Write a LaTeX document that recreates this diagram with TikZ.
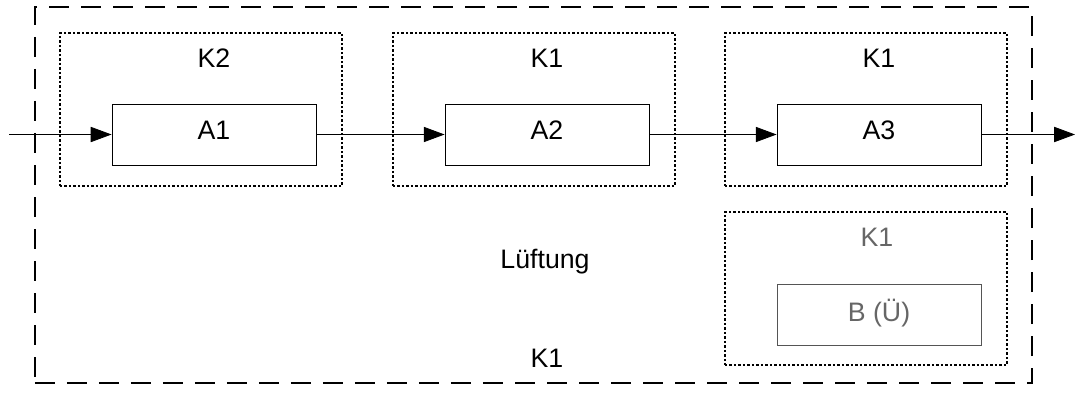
\documentclass[tikz,border=0pt]{standalone}
\usepackage{fontspec}
\setmainfont{Liberation Sans}
\usepackage{xcolor}
\usetikzlibrary{positioning,arrows.meta}
\definecolor{LFTgray}{HTML}{666666}
\definecolor{LFTedge}{HTML}{555555}

\begin{document}
\begin{tikzpicture}[x=0.025cm, y=-0.025cm,
  font=\fontsize{19}{23}\selectfont,
  akt/.style={draw, line width=0.6pt, minimum width=5.1cm, minimum height=1.525cm, inner sep=0pt, text depth=0.2cm},
  kbox/.style={draw, line width=1pt, dash pattern=on 1.6pt off 1.6pt, minimum width=7.05cm, minimum height=3.825cm, inner sep=0pt},
  flow/.style={-{Triangle[length=5.2mm, width=3.8mm]}, line width=0.6pt}]
\useasboundingbox (0,0) rectangle (1075,394);
% outer frame
\node[draw, line width=1.3pt, dash pattern=on 0.5cm off 0.3cm, minimum width=24.925cm, minimum height=9.4cm, inner sep=0pt] (frame) at (533.5,195) {};
% three stages
\foreach \i/\k/\x in {1/K2/214,2/K1/547,3/K1/879}{
  \node[kbox] (k\i) at (\x-13,109.5) {};
  \node[akt] (a\i) at (\x,134.5) {A\i};
  \node[anchor=base] (kl\i) at (\x,67) {\k};
}
% reserve unit
\node[kbox] (kb) at (866,288.5) {};
\node[akt, draw=LFTedge, text=LFTgray] (b) at (879,314.5) {B (Ü)};
\node[anchor=base, text=LFTgray] (klb) at (877,246) {K1};
\node[anchor=base] (name) at (545,268) {Lüftung};
\node[anchor=base] (klf) at (547,367) {K1};
% flow
\coordinate (in) at (9,134.5);
\coordinate (out) at (1075,134.5);
\draw[flow] (in) -- (a1);
\draw[flow] (a1) -- (a2);
\draw[flow] (a2) -- (a3);
\draw[flow] (a3) -- (out);
\end{tikzpicture}
\end{document}
